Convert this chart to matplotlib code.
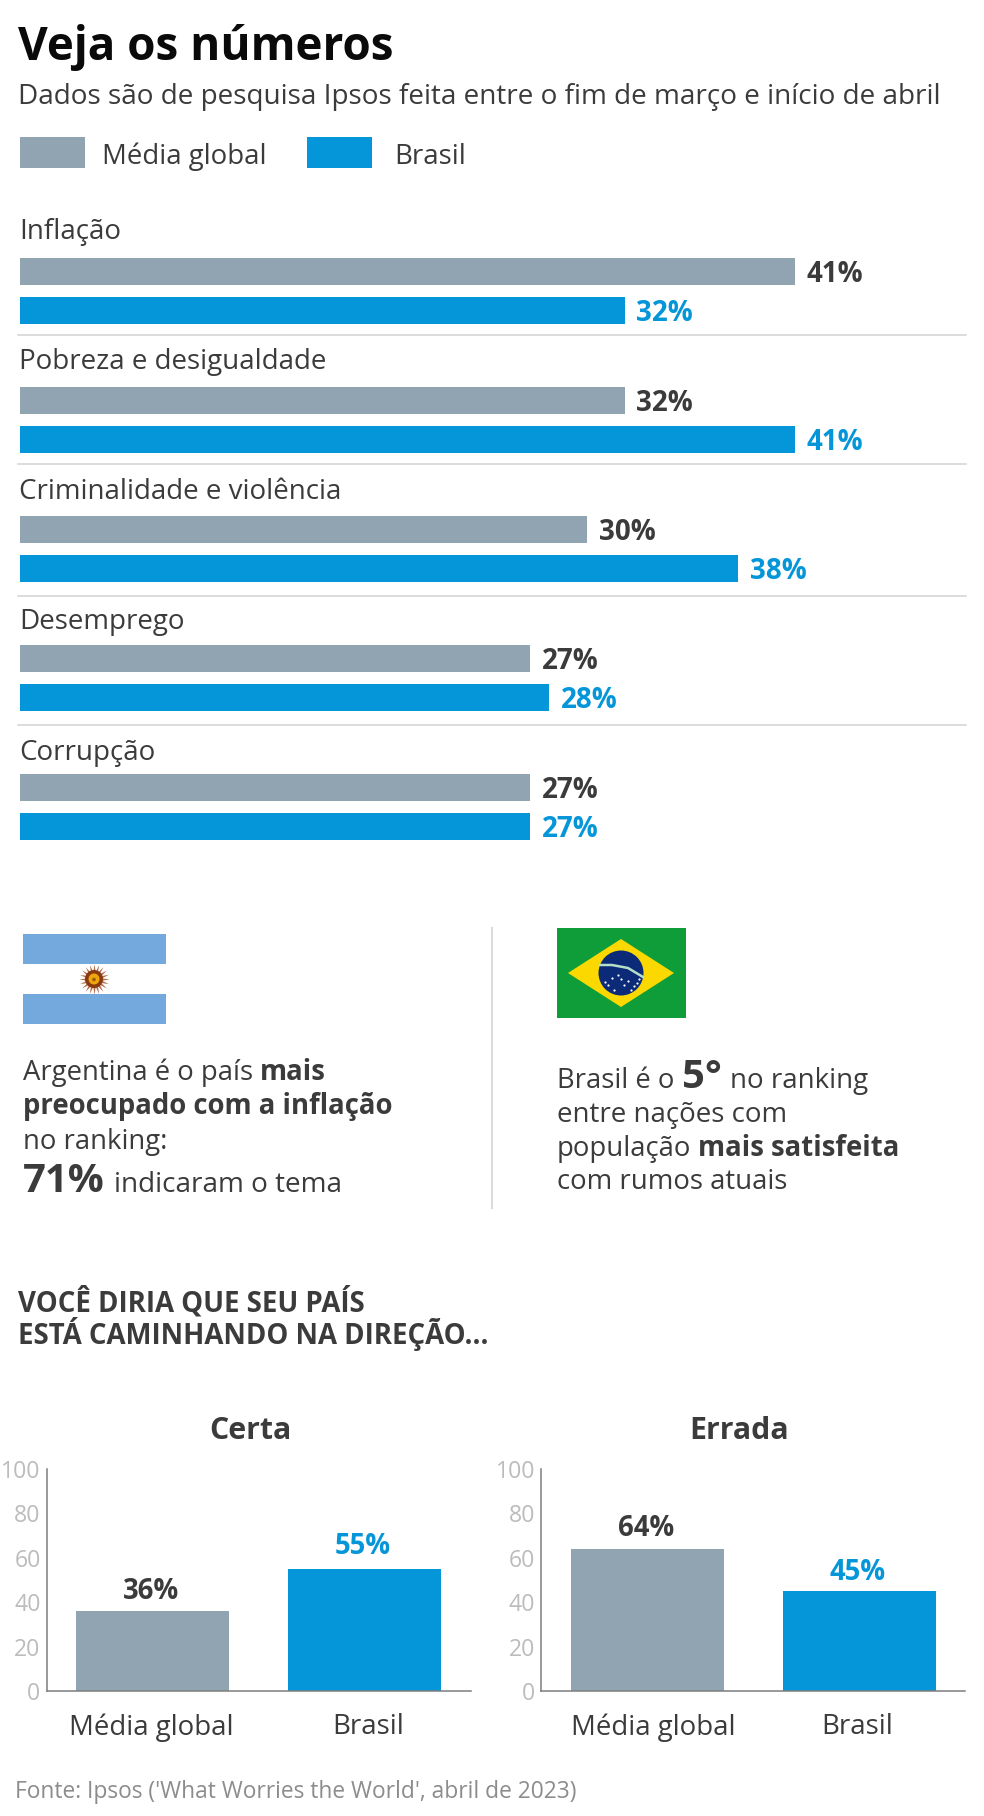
import matplotlib
matplotlib.use("Agg")
import matplotlib.pyplot as plt
from matplotlib.patches import Rectangle, Polygon, Circle

# ===============================
# Dados
# ===============================

temas = ["Inflação", "Pobreza e desigualdade", "Criminalidade e violência", "Desemprego", "Corrupção"]
media_global = [41, 32, 30, 27, 27]
brasil = [32, 41, 38, 28, 27]

direcao_titulos = ["Certa", "Errada"]
direcao_categorias = ["Média global", "Brasil"]
direcao_valores = [[36, 55], [64, 45]]
yticks = [0, 20, 40, 60, 80, 100]

# ===============================
# Configuração
# ===============================

W, H = 984, 1816
CINZA = "#91a4b1"
AZUL = "#0496d8"
ESCURO = "#3b3b3b"
plt.rcParams["font.family"] = ["Open Sans", "DejaVu Sans"]


def px(size):
    return size * 0.72


fig = plt.figure(figsize=(W / 100, H / 100), dpi=100, facecolor="white")

# camada em pixels para textos e bandeiras
bg = fig.add_axes([0, 0, 1, 1])
bg.set_xlim(0, W)
bg.set_ylim(H, 0)
bg.axis("off")


def axes_px(x0, y0, x1, y1):
    return fig.add_axes([x0 / W, 1 - y1 / H, (x1 - x0) / W, (y1 - y0) / H])


def runs(x, y, partes, gap=7):
    # texto corrido com pesos diferentes na mesma linha
    r = fig.canvas.get_renderer()
    for txt, size, weight in partes:
        t = bg.text(x, y, txt, fontsize=px(size), fontweight=weight, color=ESCURO, va="baseline")
        x = bg.transData.inverted().transform(t.get_window_extent(r))[1][0] + gap


# ===============================
# Cabeçalho
# ===============================

bg.text(18, 60, "Veja os números", fontsize=px(45.8), fontweight="bold", color="#0a0a0a", va="baseline")
bg.text(18, 104, "Dados são de pesquisa Ipsos feita entre o fim de março e início de abril",
        fontsize=px(27.9), color=ESCURO, va="baseline")

bg.add_patch(Rectangle((20, 137), 65, 31, color=CINZA, lw=0))
bg.text(102, 164, direcao_categorias[0], fontsize=px(27.6), color=ESCURO, va="baseline")
bg.add_patch(Rectangle((307, 137), 65, 31, color=AZUL, lw=0))
bg.text(394, 164, direcao_categorias[1], fontsize=px(27.6), color=ESCURO, va="baseline")

# ===============================
# Barras horizontais
# ===============================

PASSO = 129
PASSO_ROTULO = 130.3
SEPARADORES = [334.5, 464, 596, 725]

ax = axes_px(20, 200, 965, 860)
ax.set_xlim(0, 50)
ax.set_ylim(860, 200)
ax.axis("off")

for i, tema in enumerate(temas):
    base = i * PASSO
    ax.barh(base + 271.5, media_global[i], height=27, color=CINZA)
    ax.barh(base + 310, brasil[i], height=27, color=AZUL)
    ax.annotate(f"{media_global[i]}%", (media_global[i], base + 271), xytext=(px(11.5), 0),
                textcoords="offset points", va="center_baseline", fontsize=px(27.7), fontweight="bold", color=ESCURO)
    ax.annotate(f"{brasil[i]}%", (brasil[i], base + 310), xytext=(px(11.5), 0),
                textcoords="offset points", va="center_baseline", fontsize=px(27.7), fontweight="bold", color=AZUL)
    bg.text(19, 238.5 + i * PASSO_ROTULO, tema, fontsize=px(27.7), color=ESCURO, va="baseline")

for y in SEPARADORES:
    bg.plot([18, 966], [y, y], color="#d2d2d2", lw=1.1)

# ===============================
# Bandeiras
# ===============================

bg.add_patch(Rectangle((23, 934), 143, 30, color="#74a9dd", lw=0))
bg.add_patch(Rectangle((23, 994), 143, 29.5, color="#74a9dd", lw=0))
bg.scatter([94], [979], s=480, marker=(20, 1, 0), color="#b5714f", lw=0)
bg.add_patch(Circle((94, 979), 9, color="#8a3a10", lw=0))
bg.add_patch(Circle((94, 979), 5.5, color="#eea60c", lw=0))
bg.add_patch(Circle((94, 979.5), 1.8, color="#9a5a10", lw=0))

bg.add_patch(Rectangle((557, 928), 129, 90, color="#0f9d3a", lw=0))
bg.add_patch(Polygon([(568, 973), (621, 939), (674, 973), (621, 1007)], color="#fbd900", lw=0))
bg.add_patch(Circle((621, 973), 22.5, color="#0b2a78", lw=0))
bg.plot([600, 612, 628, 643], [965, 965, 968, 977], color="#b5dfc8", lw=1.8)
bg.scatter([605, 608, 612, 618, 621, 624, 628, 631, 634, 637, 639, 614],
           [982, 985, 978, 975, 979, 985, 981, 990, 986, 983, 979, 990], s=2.5, color="white", lw=0)

bg.plot([492, 492], [928, 1208], color="#dcdcdc", lw=1.5)

# ===============================
# Textos dos rankings
# ===============================

runs(23, 1080, [("Argentina é o país", 27.5, "normal"), ("mais", 27.5, "bold")])
runs(23, 1114, [("preocupado com a inflação", 27.5, "bold")])
runs(23, 1149, [("no ranking:", 27.5, "normal")])
runs(23, 1192, [("71%", 40, "bold"), ("indicaram o tema", 27.9, "normal")], gap=9)

runs(557, 1088, [("Brasil é o", 27.5, "normal"), ("5°", 40, "bold"), ("no ranking", 27.8, "normal")], gap=8)
runs(557, 1122, [("entre nações com", 27.7, "normal")])
runs(557, 1156, [("população", 27.5, "normal"), ("mais satisfeita", 27.5, "bold")])
runs(557, 1189, [("com rumos atuais", 27.5, "normal")])

bg.text(18, 1311.5, "VOCÊ DIRIA QUE SEU PAÍS", fontsize=px(27.6), fontweight="bold", color=ESCURO, va="baseline")
bg.text(18, 1344, "ESTÁ CAMINHANDO NA DIREÇÃO...", fontsize=px(27.6), fontweight="bold", color=ESCURO, va="baseline")

# ===============================
# Barras verticais
# ===============================

paineis = [(46.5, 471, 152.5, 212, 250), (541, 965, 647.5, 212, 739)]
rotulos_x = [[151, 368], [653, 857]]
folga_valor = [[12.5, 15], [13, 11]]

for k, (x0, x1, c0, passo, cx) in enumerate(paineis):
    a = axes_px(x0, 1469, x1, 1691)
    a.set_xlim((x0 - c0) / passo, (x1 - c0) / passo)
    a.set_ylim(0, 100)
    a.patch.set_alpha(0)
    cores = [CINZA, AZUL]
    cores_txt = [ESCURO, AZUL]
    for j, v in enumerate(direcao_valores[k]):
        a.bar(j, v, width=0.72, color=cores[j])
        a.annotate(f"{v}%", (j, v), xytext=(px(-1.5), px(folga_valor[k][j])), textcoords="offset points",
                   ha="center", va="baseline", fontsize=px(27.5), fontweight="bold", color=cores_txt[j])
    a.set_xticks([(x - c0) / passo for x in rotulos_x[k]], direcao_categorias, fontsize=px(27.6), color=ESCURO)
    a.set_yticks(yticks, [str(t) for t in yticks], fontsize=px(23), color="#bcbcbc")
    a.tick_params(axis="both", length=0)
    a.tick_params(axis="x", pad=px(22))
    a.tick_params(axis="y", pad=px(6))
    a.spines[["top", "right"]].set_visible(False)
    a.spines[["left", "bottom"]].set_color("#7d7d7d")
    a.spines[["left", "bottom"]].set_linewidth(1.1)
    bg.text(cx, 1439, direcao_titulos[k], ha="center", fontsize=px(30.3), fontweight="bold", color=ESCURO, va="baseline")

bg.text(15, 1798, "Fonte: Ipsos ('What Worries the World', abril de 2023)", fontsize=px(22.8), color="#8c8c8c", va="baseline")

fig.savefig("out.png", dpi=100)
